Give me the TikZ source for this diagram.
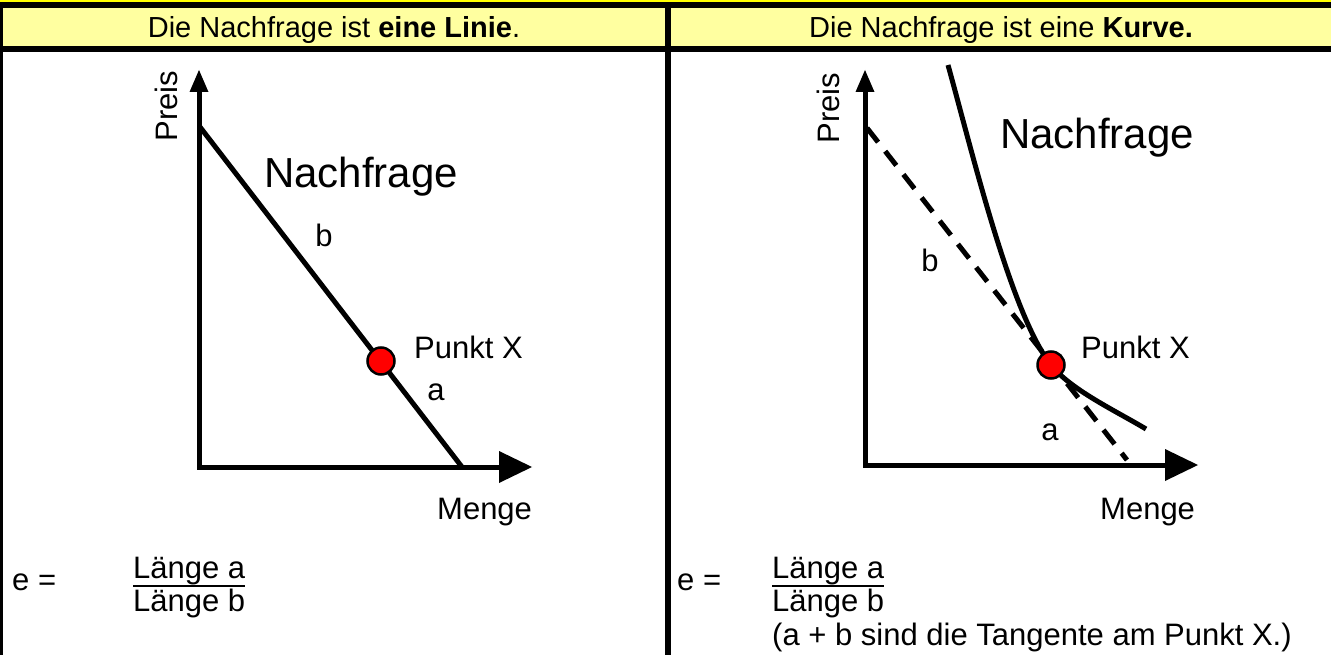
\documentclass[tikz,border=0pt]{standalone}
\usepackage{fontspec}
\setmainfont{Liberation Sans}
\usetikzlibrary{arrows.meta}

\definecolor{titelgelb}{RGB}{255,255,0}
\definecolor{kopfgelb}{RGB}{255,255,160}
\definecolor{punktrot}{RGB}{255,0,0}

\tikzset{
	rahmen/.style={line width=6pt},
	achse/.style={line width=5pt, arrows={Triangle[length=22pt,width=19pt,line width=0pt]-Triangle[length=33pt,width=32pt,line width=0pt]}},
	nachfrage/.style={line width=5pt},
	tangente/.style={line width=5pt, dash pattern=on 18pt off 11.5pt},
	punkt/.style={circle, draw=black, fill=punktrot, line width=2.5pt, minimum size=27pt, inner sep=0pt},
	schrift/.style={inner sep=0pt, font=\fontsize{31}{37}\selectfont},
	kopfschrift/.style={inner sep=0pt, font=\fontsize{29}{35}\selectfont},
	grossschrift/.style={inner sep=0pt, font=\fontsize{42}{50}\selectfont},
}

\begin{document}
\begin{tikzpicture}[x=1pt, y=-1pt]
			%%%%% START %%%%%
			\useasboundingbox (0, 0) rectangle (1331, 655);
			
			\fill[titelgelb] (0, 0) rectangle (1331, 5);
			\fill[kopfgelb] (0, 5) rectangle (1331, 49);
			\draw[rahmen] (0, 5) -- (1331, 5);
			\draw[rahmen] (0, 49) -- (1331, 49);
			\draw[rahmen] (0, 5) -- (0, 655);
			\draw[rahmen] (668, 5) -- (668, 655);
			
			\node[kopfschrift, anchor=base] (kopflinks) at (334, 38) {Die Nachfrage ist \textbf{eine Linie}.};
			\node[kopfschrift, anchor=base] (kopfrechts) at (1001, 38) {Die Nachfrage ist eine \textbf{Kurve.}};
			
			% linke Seite: Gerade
			\coordinate (pl) at (199, 70);
			\coordinate (ol) at (199, 467);
			\coordinate (ml) at (532, 467);
			\draw[achse] (pl) -- (ol) -- (ml);
			\draw[nachfrage] (200, 127) -- (462, 467);
			\node[punkt] (xlinks) at (381, 361) {};
			
			\node[schrift, rotate=90, anchor=base] (preislinks) at (177, 106) {Preis};
			\node[schrift, anchor=base west] (mengelinks) at (437, 519) {Menge};
			\node[grossschrift, anchor=base west] (nflinks) at (264, 188) {Nachfrage};
			\node[schrift, anchor=base] (blinks) at (324, 247) {b};
			\node[schrift, anchor=base] (alinks) at (436, 400) {a};
			\node[schrift, anchor=base west] (pxlinks) at (414, 358) {Punkt X};
			
			\node[schrift, anchor=base west] (elinks) at (12, 590) {e =};
			\node[schrift, anchor=base west] (lalinks) at (133, 578) {Länge a};
			\node[schrift, anchor=base west] (lblinks) at (133, 611) {Länge b};
			\draw[line width=2pt] ([yshift=-8pt]lalinks.base west) -- ([yshift=-8pt]lalinks.base east);
			
			% rechte Seite: Kurve
			\coordinate (pr) at (865, 70);
			\coordinate (or) at (865, 465);
			\coordinate (mr) at (1198, 465);
			\draw[achse] (pr) -- (or) -- (mr);
			\draw[tangente] (867, 128) -- (1127, 460);
			\draw[nachfrage] (948, 65) .. controls (973, 155) and (1011, 314) .. (1051, 365)
				.. controls (1071, 390) and (1116, 411) .. (1146, 429);
			\node[punkt] (xrechts) at (1051, 365) {};
			
			\node[schrift, rotate=90, anchor=base] (preisrechts) at (839, 108) {Preis};
			\node[schrift, anchor=base west] (mengerechts) at (1100, 519) {Menge};
			\node[grossschrift, anchor=base west] (nfrechts) at (1000, 149) {Nachfrage};
			\node[schrift, anchor=base] (brechts) at (930, 272) {b};
			\node[schrift, anchor=base] (arechts) at (1050, 440) {a};
			\node[schrift, anchor=base west] (pxrechts) at (1081, 358) {Punkt X};
			
			\node[schrift, anchor=base west] (erechts) at (677, 590) {e =};
			\node[schrift, anchor=base west] (larechts) at (772, 578) {Länge a};
			\node[schrift, anchor=base west] (lbrechts) at (772, 611) {Länge b};
			\draw[line width=2pt] ([yshift=-8pt]larechts.base west) -- ([yshift=-8pt]larechts.base east);
			\node[schrift, anchor=base west] (tangrechts) at (772, 645) {(a + b sind die Tangente am Punkt X.)};
			
			%%%%% END %%%%%
\end{tikzpicture}
\end{document}
